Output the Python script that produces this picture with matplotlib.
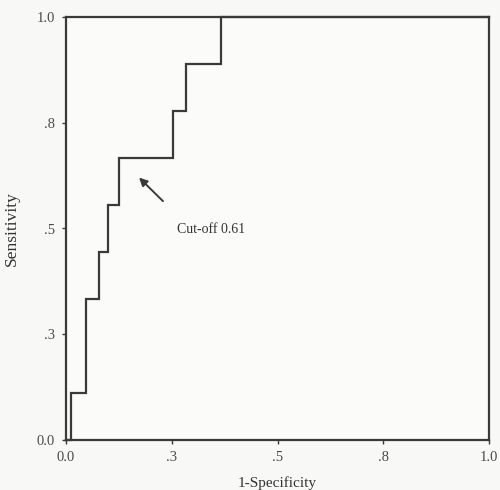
import matplotlib.pyplot as plt

# ROC curve steps (1-specificity, sensitivity)
fpr = [0.0, 0.012, 0.012, 0.047, 0.047, 0.077, 0.077, 0.100, 0.100, 0.125, 0.125,
       0.253, 0.253, 0.283, 0.283, 0.366, 0.366, 1.0]
tpr = [0.0, 0.0, 0.111, 0.111, 0.333, 0.333, 0.444, 0.444, 0.556, 0.556, 0.667,
       0.667, 0.778, 0.778, 0.889, 0.889, 1.0, 1.0]

tick_pos = [0.0, 0.25, 0.5, 0.75, 1.0]
tick_labels = ["0.0", ".3", ".5", ".8", "1.0"]

plt.rcParams['font.family'] = ['Liberation Serif', 'DejaVu Serif']

fig = plt.figure(figsize=(5, 4.9), dpi=100, facecolor='#f8f8f6')
ax = fig.add_axes([66 / 500, 1 - 440 / 490, 423 / 500, 423 / 490])
ax.set_facecolor('#fbfbf9')

line_col = '#3a3a3a'
ax.plot(fpr, tpr, color=line_col, lw=1.6, solid_joinstyle='miter', clip_on=False)

ax.set_xlim(0, 1)
ax.set_ylim(0, 1)
ax.set_xticks(tick_pos)
ax.set_xticklabels(tick_labels)
ax.set_yticks(tick_pos)
ax.set_yticklabels(tick_labels)
ax.tick_params(length=3, width=1, color=line_col, labelsize=10.5, labelcolor='#4a4a4a', pad=5)
for s in ax.spines.values():
    s.set_color(line_col)
    s.set_linewidth(1.6)

ax.set_xlabel("1-Specificity", fontsize=11, color='#333333', labelpad=9)
ax.set_ylabel("Sensitivity", fontsize=12.5, color='#333333', labelpad=12)

ax.annotate("", xy=(0.168, 0.625), xytext=(0.234, 0.56),
            arrowprops=dict(arrowstyle='-|>', color=line_col, lw=1.4, mutation_scale=12))
ax.text(0.263, 0.49, "Cut-off 0.61", fontsize=10, color='#333333')

fig.savefig("out.png", dpi=100, facecolor=fig.get_facecolor())
